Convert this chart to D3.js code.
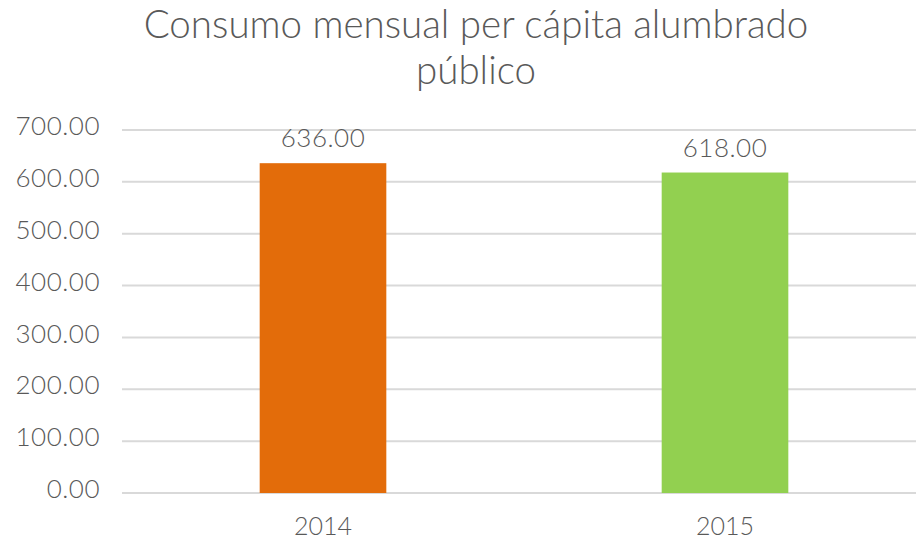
<!DOCTYPE html>
<html>
<head>
<meta charset="utf-8">
<script src="https://cdn.jsdelivr.net/npm/d3@7"></script>
<style>
  body { margin: 0; background: #fff; }
  text { font-family: "Lato", "Open Sans", sans-serif; fill: #595959; }
</style>
</head>
<body>
<script>
var years = ["2014", "2015"];
var consumo = [636, 618];
var colores = ["#E36C0A", "#92D050"];
var yTicks = [0, 100, 200, 300, 400, 500, 600, 700];
var titulo = ["Consumo mensual per cápita alumbrado", "público"];

var width = 916, height = 539;
var margin = {top: 130, right: -10, bottom: 46, left: 122};

var svg = d3.select("body").append("svg")
    .attr("width", width)
    .attr("height", height);

var x = d3.scaleBand()
    .domain(years)
    .range([margin.left, width - margin.right])
    .paddingInner(0.685)
    .paddingOuter(0.3425);

var y = d3.scaleLinear()
    .domain([0, 700])
    .range([height - margin.bottom, margin.top]);

// gridlines
svg.append("g")
  .selectAll("line")
  .data(yTicks)
  .enter().append("line")
    .attr("x1", margin.left)
    .attr("x2", width)
    .attr("y1", function(d) { return y(d); })
    .attr("y2", function(d) { return y(d); })
    .attr("stroke", "#d9d9d9")
    .attr("stroke-width", 2);

// y tick labels
svg.append("g")
  .selectAll("text")
  .data(yTicks)
  .enter().append("text")
    .attr("x", 100)
    .attr("y", function(d) { return y(d); })
    .attr("dy", "0.2em")
    .attr("text-anchor", "end")
    .style("font-size", "26px")
    .style("font-weight", 300)
    .style("letter-spacing", "0.5px")
    .text(function(d) { return d3.format(".2f")(d); });

// bars
svg.append("g")
  .selectAll("rect")
  .data(consumo)
  .enter().append("rect")
    .attr("x", function(d, i) { return x(years[i]); })
    .attr("width", x.bandwidth())
    .attr("y", function(d) { return y(d); })
    .attr("height", function(d) { return y(0) - y(d); })
    .attr("fill", function(d, i) { return colores[i]; });

// data labels
svg.append("g")
  .selectAll("text")
  .data(consumo)
  .enter().append("text")
    .attr("x", function(d, i) { return x(years[i]) + x.bandwidth() / 2; })
    .attr("y", function(d) { return y(d) - 16; })
    .attr("text-anchor", "middle")
    .style("font-size", "26px")
    .style("font-weight", 300)
    .style("letter-spacing", "0.5px")
    .text(function(d) { return d3.format(".2f")(d); });

// x labels
svg.append("g")
  .selectAll("text")
  .data(years)
  .enter().append("text")
    .attr("x", function(d) { return x(d) + x.bandwidth() / 2; })
    .attr("y", 535)
    .attr("text-anchor", "middle")
    .style("font-size", "25px")
    .style("font-weight", 300)
    .text(function(d) { return d; });

// title
svg.append("g")
  .selectAll("text")
  .data(titulo)
  .enter().append("text")
    .attr("x", 476)
    .attr("y", function(d, i) { return 38 + i * 46; })
    .attr("text-anchor", "middle")
    .style("font-size", "38.5px")
    .style("font-weight", 300)
    .text(function(d) { return d; });
</script>
</body>
</html>
